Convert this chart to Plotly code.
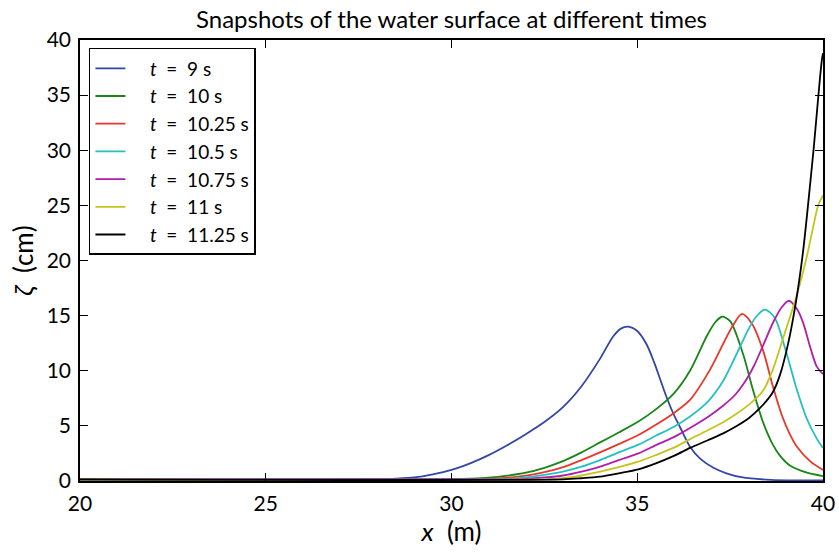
import plotly.graph_objects as go

# ---- data (x in m, zeta in cm) ----
labels = ["9", "10", "10.25", "10.5", "10.75", "11", "11.25"]
colors = ["#3346a8", "#178617", "#e8372b", "#25c0c0", "#b01eaa", "#c4c41c", "#000000"]

x_t9 = [20, 25, 28, 28.5, 29, 29.5, 30, 30.5, 31, 31.5, 32, 32.5, 33, 33.5, 34, 34.35, 34.55, 34.75,
        35.0, 35.25, 35.45, 35.61, 35.79, 36.0, 36.15, 36.42, 36.7, 37.05, 37.4, 37.8, 38.6, 40]
z_t9 = [0.15, 0.15, 0.18, 0.22, 0.32, 0.6, 1.0, 1.6, 2.35, 3.25, 4.25, 5.35, 6.7, 8.6, 11.1, 13.1, 13.8, 14.0,
        13.6, 12.4, 10.8, 9.3, 7.6, 5.9, 4.9, 3.1, 2.0, 1.2, 0.7, 0.35, 0.1, 0.05]

x_t10 = [20, 29, 30, 30.5, 31, 31.5, 32, 32.5, 33, 33.5, 34, 34.5, 35.03, 35.5, 36.0, 36.42, 36.88,
         37.1, 37.28, 37.5, 37.85, 38.12, 38.39, 38.65, 38.84, 39.11, 39.57, 40]
z_t10 = [0.15, 0.15, 0.18, 0.22, 0.3, 0.48, 0.75, 1.2, 1.8, 2.6, 3.5, 4.4, 5.4, 6.5, 8.0, 10.0, 13.2,
         14.4, 14.9, 14.5, 11.5, 8.2, 5.3, 3.3, 2.3, 1.4, 0.75, 0.45]

x_t1025 = [20, 30, 31, 31.5, 32, 32.5, 33, 33.5, 34, 34.5, 35.03, 35.5, 36.0, 36.42, 36.96, 37.54,
           37.82, 38.1, 38.39, 38.65, 38.9, 39.1, 39.3, 39.65, 40]
z_t1025 = [0.15, 0.15, 0.2, 0.3, 0.48, 0.8, 1.25, 1.9, 2.6, 3.35, 4.17, 5.1, 6.2, 7.35, 10.1, 13.9,
           15.15, 14.2, 11.8, 8.6, 5.9, 4.3, 3.1, 1.8, 1.0]

x_t105 = [20, 31, 31.5, 32, 32.5, 33, 33.5, 34, 34.5, 35.03, 35.5, 36.0, 36.42, 36.9, 37.3, 37.63,
          38.0, 38.2, 38.44, 38.7, 39.0, 39.3, 39.57, 39.84, 40]
z_t105 = [0.15, 0.15, 0.2, 0.32, 0.55, 0.85, 1.3, 1.9, 2.6, 3.3, 4.1, 4.95, 5.85, 7.2, 9.0, 11.2,
          13.8, 14.9, 15.55, 14.8, 11.8, 8.25, 5.6, 3.8, 3.0]

x_t1075 = [20, 31.5, 32, 32.5, 33, 33.5, 34, 34.5, 35.03, 35.5, 36.0, 36.42, 36.9, 37.3, 37.63,
           37.9, 38.15, 38.4, 38.66, 38.9, 39.08, 39.3, 39.47, 39.65, 39.83, 40]
z_t1075 = [0.15, 0.15, 0.2, 0.32, 0.5, 0.85, 1.3, 1.9, 2.5, 3.25, 4.0, 4.8, 5.8, 6.8, 7.8,
           9.0, 10.5, 12.4, 14.4, 15.8, 16.35, 15.6, 14.3, 12.2, 10.4, 9.7]

x_t11 = [20, 32.5, 33, 33.5, 34, 34.5, 35.03, 35.5, 36.0, 36.42, 36.9, 37.3, 37.63, 38.0, 38.39,
         38.66, 38.93, 39.2, 39.38, 39.56, 39.74, 39.87, 40]
z_t11 = [0.15, 0.15, 0.25, 0.5, 0.85, 1.25, 1.75, 2.35, 3.05, 3.8, 4.6, 5.3, 6.0, 6.9, 8.2,
         10.2, 13.0, 15.8, 17.9, 20.3, 23.1, 25.0, 25.9]

x_t1125 = [20, 33, 33.5, 34, 34.5, 35.03, 35.5, 36.0, 36.42, 36.9, 37.3, 37.63, 38.0, 38.3, 38.64,
           38.84, 39.07, 39.25, 39.36, 39.47, 39.56, 39.65, 39.75, 39.84, 39.92, 39.97, 40]
z_t1125 = [0.15, 0.15, 0.25, 0.4, 0.7, 1.06, 1.6, 2.3, 3.0, 3.7, 4.3, 4.9, 5.7, 6.6, 8.0,
           9.6, 12.6, 15.8, 18.2, 21.0, 23.8, 26.8, 30.2, 33.6, 36.6, 38.2, 38.8]

series_x = [x_t9, x_t10, x_t1025, x_t105, x_t1075, x_t11, x_t1125]
series_z = [z_t9, z_t10, z_t1025, z_t105, z_t1075, z_t11, z_t1125]

x_ticks = [20, 25, 30, 35, 40]
y_ticks = [0, 5, 10, 15, 20, 25, 30, 35, 40]

FONT = "Lato"
NB = "\u00a0"

fig = go.Figure()
for i, (xs, zs) in enumerate(zip(series_x, series_z)):
    fig.add_trace(go.Scatter(
        x=xs, y=zs, mode="lines",
        line=dict(color=colors[i], width=1.8, shape="spline", smoothing=0.8),
        name=f"{NB*4}<i>t</i>{NB}{NB}={NB}{NB}{labels[i]} s",
    ))

axis_common = dict(
    showline=True, linecolor="black", linewidth=1.5, mirror="ticks",
    ticks="inside", ticklen=8, tickwidth=1.2, tickcolor="black",
    showgrid=False, zeroline=False, automargin=False,
    tickfont=dict(family=FONT, size=21, color="black"),
)

fig.update_layout(
    width=839, height=552,
    margin=dict(l=80, r=16, t=40, b=71),
    paper_bgcolor="white", plot_bgcolor="white",
    title=dict(text="Snapshots of the water surface at different times",
               x=0.5, xanchor="center", xref="paper", y=0.965, yanchor="middle",
               font=dict(family=FONT, size=24, color="black")),
    xaxis=dict(range=[20, 40], tickvals=x_ticks, ticklabelstandoff=3,
               title=dict(text=f"<i>x</i>{NB}{NB}(m)", font=dict(family=FONT, size=26, color="black"), standoff=6),
               **axis_common),
    yaxis=dict(range=[0, 40], tickvals=y_ticks, ticklabelstandoff=3,
               title=dict(text=f"<i>ζ</i>{NB}{NB}(cm)", font=dict(family=FONT, size=26, color="black"), standoff=6),
               **axis_common),
    legend=dict(x=0.012, y=0.982, xanchor="left", yanchor="top",
                bgcolor="white", bordercolor="black", borderwidth=1.5,
                font=dict(family=FONT, size=19, color="black"),
                itemwidth=30),
    showlegend=True,
)

fig.write_html("out.html")
